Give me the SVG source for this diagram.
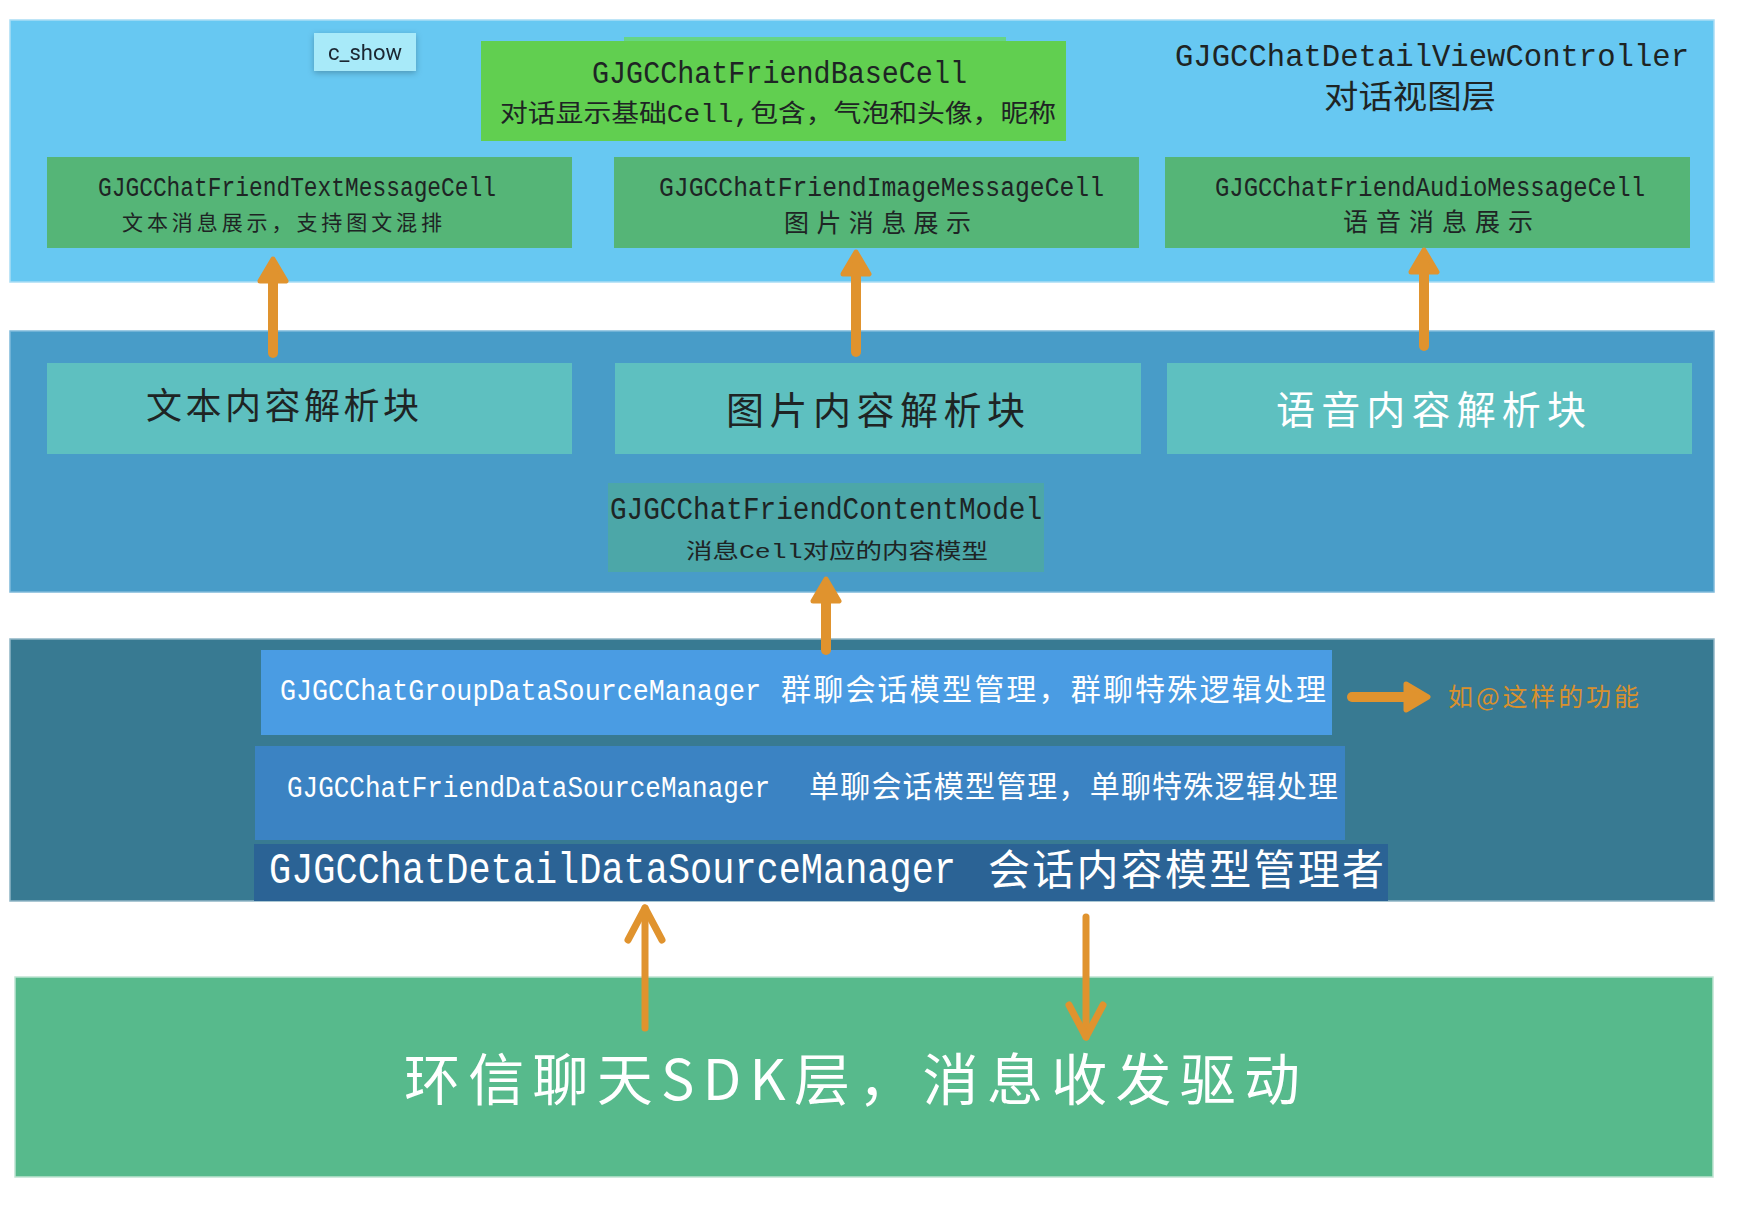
<svg xmlns="http://www.w3.org/2000/svg" width="1750" height="1216" viewBox="0 0 1750 1216">
<style>
.mono{font-family:"Liberation Mono","Noto Sans CJK SC",monospace}
.cjk{font-family:"Noto Sans CJK SC","Liberation Sans",sans-serif}
.dk{fill:#1e2424}
.wt{fill:#ffffff}
.cell{fill:#55B577}
.parse{fill:#5EC0C0}
.conn{stroke:#E0932E;fill:none;stroke-linecap:round}
.thick{stroke-width:10}
.thin{stroke-width:7}
</style>
<defs>
<marker id="ah" markerUnits="userSpaceOnUse" markerWidth="40" markerHeight="40" refX="16" refY="16" orient="auto" overflow="visible">
<path d="M4,3 L26,16 L4,29 Z" fill="#E0932E" stroke="#E0932E" stroke-width="5" stroke-linejoin="round"/>
</marker>
<marker id="ac" markerUnits="userSpaceOnUse" markerWidth="44" markerHeight="44" refX="36" refY="20" orient="auto" overflow="visible">
<path d="M4,3 L36,20 L4,37" fill="none" stroke="#E0932E" stroke-width="7" stroke-linecap="round" stroke-linejoin="round"/>
</marker>
<filter id="sh" x="-20%" y="-30%" width="140%" height="170%">
<feDropShadow dx="0" dy="2" stdDeviation="3" flood-color="#000" flood-opacity="0.25"/>
</filter>
</defs>
<rect width="1750" height="1216" fill="#ffffff"/>

<g id="view-layer">
<rect x="10" y="20" width="1704" height="262" fill="#67C8F2" stroke="#A9DDF5" stroke-width="1.5"/>
<text class="mono dk" x="1175" y="66" font-size="32" textLength="514" lengthAdjust="spacingAndGlyphs">GJGCChatDetailViewController</text>
<text class="cjk dk" x="1324" y="108" font-size="32" textLength="172" lengthAdjust="spacingAndGlyphs">对话视图层</text>
</g>

<g id="c_show" filter="url(#sh)">
<rect x="314" y="33" width="102" height="38" fill="#A8EAF9"/>
<text x="365" y="60" font-family="Roboto,'Liberation Sans',sans-serif" font-size="22" fill="#1a2630" text-anchor="middle">c_show</text>
</g>

<g id="base-cell">
<rect x="624" y="37" width="382" height="6" fill="#66D585"/>
<rect x="481" y="41" width="585" height="100" fill="#61CF50"/>
<text class="mono dk" x="592" y="83" font-size="31" textLength="375" lengthAdjust="spacingAndGlyphs">GJGCChatFriendBaseCell</text>
<text class="mono dk" x="500" y="122" font-size="25" textLength="556" lengthAdjust="spacingAndGlyphs">对话显示基础Cell,包含，气泡和头像，昵称</text>
</g>

<g id="text-cell">
<rect class="cell" x="47" y="157" width="525" height="91"/>
<text class="mono dk" x="98" y="196" font-size="27" textLength="398" lengthAdjust="spacingAndGlyphs">GJGCChatFriendTextMessageCell</text>
<text class="cjk dk" x="122" y="230" font-size="21" textLength="320" lengthAdjust="spacing">文本消息展示，支持图文混排</text>
</g>
<g id="image-cell">
<rect class="cell" x="614" y="157" width="525" height="91"/>
<text class="mono dk" x="659" y="196" font-size="27" textLength="445" lengthAdjust="spacingAndGlyphs">GJGCChatFriendImageMessageCell</text>
<text class="cjk dk" x="784" y="232" font-size="25" textLength="187" lengthAdjust="spacing">图片消息展示</text>
</g>
<g id="audio-cell">
<rect class="cell" x="1165" y="157" width="525" height="91"/>
<text class="mono dk" x="1215" y="196" font-size="27" textLength="430" lengthAdjust="spacingAndGlyphs">GJGCChatFriendAudioMessageCell</text>
<text class="cjk dk" x="1343" y="231" font-size="25" textLength="190" lengthAdjust="spacing">语音消息展示</text>
</g>

<g id="parse-layer">
<rect x="10" y="331" width="1704" height="261" fill="#489CC8" stroke="#7DB9DA" stroke-width="1.5"/>
</g>
<g id="text-parse">
<rect class="parse" x="47" y="363" width="525" height="91"/>
<text class="cjk dk" x="146" y="419" font-size="36" textLength="273" lengthAdjust="spacing">文本内容解析块</text>
</g>
<g id="image-parse">
<rect class="parse" x="615" y="363" width="526" height="91"/>
<text class="cjk dk" x="726" y="424" font-size="38" textLength="299" lengthAdjust="spacing">图片内容解析块</text>
</g>
<g id="audio-parse">
<rect class="parse" x="1167" y="363" width="525" height="91"/>
<text class="cjk wt" x="1276" y="424" font-size="39" textLength="310" lengthAdjust="spacing">语音内容解析块</text>
</g>
<g id="content-model">
<rect x="608" y="483" width="436" height="89" fill="#4CA7A8"/>
<text class="mono dk" x="610" y="519" font-size="31" textLength="432" lengthAdjust="spacingAndGlyphs">GJGCChatFriendContentModel</text>
<text class="mono dk" x="686" y="558" font-size="21" textLength="302" lengthAdjust="spacingAndGlyphs">消息Cell对应的内容模型</text>
</g>

<g id="datasource-layer">
<rect x="10" y="639" width="1704" height="262" fill="#387A92" stroke="#8FB5C5" stroke-width="1.5"/>
</g>
<g id="group-ds">
<rect x="261" y="650" width="1071" height="85" fill="#4A9CE3"/>
<text class="mono wt" x="280" y="700" font-size="30" textLength="481" lengthAdjust="spacingAndGlyphs">GJGCChatGroupDataSourceManager</text>
<text class="cjk wt" x="781" y="700" font-size="30" textLength="545" lengthAdjust="spacing">群聊会话模型管理，群聊特殊逻辑处理</text>
</g>
<g id="friend-ds">
<rect x="255" y="746" width="1090" height="94" fill="#3B83C3"/>
<text class="mono wt" x="287" y="797" font-size="29" textLength="483" lengthAdjust="spacingAndGlyphs">GJGCChatFriendDataSourceManager</text>
<text class="cjk wt" x="809" y="797" font-size="30" textLength="529" lengthAdjust="spacing">单聊会话模型管理，单聊特殊逻辑处理</text>
</g>
<g id="detail-ds">
<rect x="254" y="844" width="1134" height="57" fill="#2B6395"/>
<text class="mono wt" x="269" y="883" font-size="45" textLength="687" lengthAdjust="spacingAndGlyphs">GJGCChatDetailDataSourceManager</text>
<text class="cjk wt" x="988" y="885" font-size="42" textLength="396" lengthAdjust="spacing">会话内容模型管理者</text>
</g>
<g id="at-feature">
<text class="cjk" x="1448" y="706" font-size="25" fill="#D9902D" textLength="191" lengthAdjust="spacing">如@这样的功能</text>
</g>

<g id="sdk-layer">
<rect x="15" y="977" width="1698" height="200" fill="#57BA8C" stroke="#BFE4D2" stroke-width="1.5"/>
<text class="cjk wt" x="404" y="1100" font-size="56" textLength="896" lengthAdjust="spacing">环信聊天SDK层，消息收发驱动</text>
</g>

<g id="connectors">
<line class="conn thick" x1="273" y1="353" x2="273" y2="269" marker-end="url(#ah)"/>
<line class="conn thick" x1="856" y1="352" x2="856" y2="262" marker-end="url(#ah)"/>
<line class="conn thick" x1="1424" y1="346" x2="1424" y2="260" marker-end="url(#ah)"/>
<line class="conn thick" x1="826" y1="650" x2="826" y2="589" marker-end="url(#ah)"/>
<line class="conn thick" x1="1352" y1="697" x2="1418" y2="697" marker-end="url(#ah)"/>
<line class="conn thin" x1="645" y1="1028" x2="645" y2="908" marker-end="url(#ac)"/>
<line class="conn thin" x1="1086" y1="917" x2="1086" y2="1037" marker-end="url(#ac)"/>
</g>
</svg>
